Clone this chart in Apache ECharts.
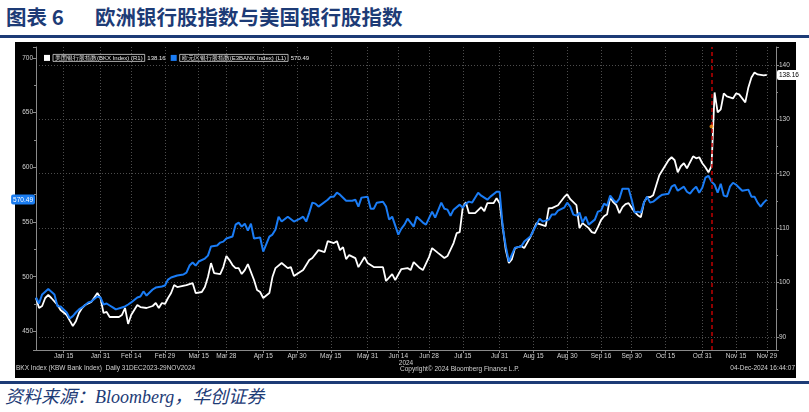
<!DOCTYPE html>
<html><head><meta charset="utf-8">
<script src="https://cdn.jsdelivr.net/npm/echarts@6/dist/echarts.min.js"></script>
<style>
html,body{margin:0;padding:0;background:#fff;}
#wrap{position:relative;width:809px;height:412px;overflow:hidden;}
#title{position:absolute;left:6px;top:4px;font-family:"Noto Sans CJK SC";font-weight:bold;font-size:20.5px;line-height:24px;color:#1d3b76;white-space:pre;}
#title .t2{position:absolute;left:89px;top:0;}
#rule1{position:absolute;left:0;top:35px;width:809px;height:3px;background:#1d3b76;}
#panel{position:absolute;left:15px;top:42px;width:781px;height:336px;background:#000;}
#rule2{position:absolute;left:0;top:381px;width:809px;height:3px;background:#1d3b76;}
#source{position:absolute;left:5px;top:386px;font-family:"Liberation Serif","Noto Sans CJK SC";font-style:italic;font-size:18px;line-height:22px;color:#1d3b76;white-space:pre;}
#chart{position:absolute;left:0;top:0;width:809px;height:412px;}
</style></head>
<body>
<div id="wrap">
  <div id="title"><span>图表 6</span><span class="t2">欧洲银行股指数与美国银行股指数</span></div>
  <div id="rule1"></div>
  <div id="panel"></div>
  <div id="rule2"></div>
  <div id="source">资料来源：Bloomberg，华创证券</div>
  <div id="chart"></div>
</div>
<script>
// ---------- data ----------
const YEAR = 2024;
const tickDates = ['01-15','01-31','02-14','02-29','03-15','03-28','04-15','04-30','05-15','05-31','06-14','06-28','07-15','07-31','08-15','08-30','09-16','09-30','10-15','10-31','11-15','11-29'];
const electionDate = '11-05';
const eventMarker = { date: '11-05', value: 128.7 };

const euroName = '欧元区银行股指数(E3BANK Index) (L1)';
const usName = '美国银行股指数(BKX Index) (R1)';

const euroDates = ['01-02','01-03','01-04','01-08','01-10','01-11','01-12','01-16','01-17','01-18','01-19','01-22','01-23','01-25','01-26','01-30','01-31',
'02-01','02-02','02-05','02-06','02-07','02-09','02-12','02-13','02-14','02-16','02-19','02-20','02-21','02-23','02-26','02-28','02-29',
'03-01','03-04','03-06','03-08','03-11','03-12','03-13','03-14','03-15','03-19','03-20','03-21','03-25','03-26','03-27','03-28',
'04-01','04-02','04-03','04-04','04-05','04-08','04-09','04-10','04-12','04-15','04-17','04-18','04-19','04-22','04-23','04-25','04-29',
'05-01','05-02','05-03','05-06','05-07','05-08','05-09','05-14','05-15','05-16','05-17','05-20','05-22','05-24','05-27','05-28','05-29','05-31',
'06-03','06-04','06-05','06-07','06-10','06-11','06-12','06-14','06-17','06-18','06-19','06-21','06-24','06-26','06-27',
'07-01','07-02','07-04','07-05','07-08','07-09','07-10','07-12','07-15','07-16','07-17','07-18','07-22','07-23','07-25','07-26','07-30','07-31',
'08-01','08-02','08-05','08-06','08-07','08-09','08-12','08-14','08-16','08-19','08-20','08-22','08-23','08-26','08-27','08-29','08-30',
'09-02','09-03','09-04','09-05','09-06','09-09','09-10','09-12','09-13','09-16','09-17','09-18','09-19','09-20','09-23','09-24','09-25','09-27','09-30',
'10-01','10-02','10-03','10-04','10-07','10-08','10-09','10-11','10-14','10-16','10-17','10-18','10-21','10-23','10-24','10-25','10-28','10-29','10-30','10-31',
'11-01','11-04','11-05','11-06','11-07','11-08','11-11','11-12','11-13','11-14','11-15','11-19','11-21','11-22','11-25','11-26','11-27','11-28','11-29'];
const euroValues = [481.0,475.5,483.8,488.8,483.8,473.1,472.8,467.3,461.9,464.0,467.3,470.1,471.9,476.5,477.4,481.9,481.0,
474.6,475.5,473.7,471.9,470.1,471.9,472.8,474.6,476.5,481.0,481.9,486.5,482.8,488.3,490.1,491.1,492.0,
497.4,499.3,501.1,502.0,503.8,510.2,513.0,510.2,513.9,516.6,519.3,527.6,528.5,531.2,532.1,534.9,
536.7,547.6,549.5,545.8,548.5,542.2,548.5,534.9,535.8,523.0,536.7,538.5,543.1,554.9,550.4,554.9,550.4,
553.1,554.9,550.4,558.6,567.7,566.8,564.1,570.4,573.2,573.2,576.8,575.0,569.5,569.5,570.4,564.1,572.3,573.2,
562.2,562.2,567.7,568.6,564.1,552.2,554.9,538.5,544.0,547.6,553.1,545.8,554.9,549.5,547.6,
559.5,554.0,567.7,562.2,561.3,555.8,561.3,565.9,563.1,566.8,568.6,567.7,576.8,574.1,570.4,573.2,577.7,577.7,
545.8,527.6,513.9,520.3,526.6,527.6,532.1,536.7,547.6,553.1,550.4,552.2,556.8,556.8,560.4,563.1,567.7,
564.1,556.8,555.8,558.6,549.5,554.9,547.6,552.2,559.5,560.4,566.8,565.0,574.1,570.4,567.7,571.4,580.5,580.5,570.4,
558.6,559.5,558.6,567.7,573.2,567.7,568.6,573.2,575.0,575.9,582.3,584.1,578.6,582.3,577.7,575.9,579.6,582.3,576.8,581.4,
590.5,592.3,586.9,584.1,576.8,585.0,574.1,573.2,582.3,585.9,584.1,578.6,579.6,573.2,573.2,567.7,564.1,567.7,570.49];

const usDates = ['01-02','01-03','01-04','01-05','01-08','01-09','01-11','01-12','01-16','01-17','01-18','01-19','01-22','01-23','01-24','01-26','01-30','01-31',
'02-01','02-02','02-05','02-07','02-08','02-09','02-12','02-13','02-14','02-16','02-19','02-21','02-23','02-26','02-27','02-28','02-29',
'03-01','03-04','03-05','03-06','03-11','03-13','03-14','03-18','03-19','03-20','03-21','03-22','03-26','03-27','03-28','03-29',
'04-01','04-02','04-03','04-04','04-05','04-08','04-10','04-11','04-12','04-15','04-17','04-18','04-19','04-23','04-25','04-26','04-29',
'05-02','05-06','05-07','05-09','05-13','05-14','05-16','05-17','05-20','05-21','05-22','05-23','05-27','05-28','05-30','05-31',
'06-04','06-05','06-07','06-10','06-12','06-13','06-17','06-19','06-20','06-21','06-25','06-26','06-28',
'07-01','07-03','07-05','07-08','07-10','07-11','07-12','07-15','07-16','07-17','07-19','07-23','07-24','07-25','07-29','07-30','07-31',
'08-01','08-02','08-05','08-06','08-07','08-09','08-12','08-14','08-16','08-20','08-21','08-22','08-23','08-27','08-29','08-30',
'09-02','09-04','09-05','09-06','09-10','09-11','09-12','09-13','09-16','09-17','09-18','09-19','09-20','09-23','09-24','09-25','09-26','09-27',
'10-01','10-02','10-03','10-04','10-07','10-08','10-09','10-10','10-11','10-14','10-16','10-17','10-18','10-21','10-22','10-23','10-24','10-28','10-29','10-30','10-31',
'11-01','11-04','11-05','11-06','11-07','11-08','11-11','11-12','11-14','11-15','11-18','11-20','11-21','11-22','11-25','11-26','11-28','11-29'];
const usValues = [97.16,95.32,95.69,97.16,97.71,97.16,95.87,94.95,94.04,93.0,92.02,92.9,94.4,95.32,95.87,96.42,98.07,97.16,
94.40,94.59,93.67,93.67,93.67,94.04,95.32,92.39,94.04,95.87,95.50,95.32,95.69,96.24,95.32,96.24,96.06,
97.16,98.07,99.54,99.17,99.54,99.91,98.07,98.26,99.17,101.01,103.58,101.74,101.56,102.84,104.86,104.13,
103.21,102.66,102.66,101.56,102.29,103.39,100.46,98.62,98.26,97.16,98.07,101.01,102.66,103.58,102.66,102.84,101.19,
102.29,104.13,104.50,105.96,105.60,107.61,107.25,107.61,105.96,106.51,104.31,105.05,104.50,102.84,104.68,103.58,
102.84,102.84,102.84,100.28,101.56,100.46,102.48,102.66,102.29,103.76,102.66,102.29,104.68,
106.33,105.41,104.50,104.86,107.25,109.08,109.27,113.85,114.77,112.75,112.75,113.85,113.12,114.59,114.59,115.50,114.59,
110.18,105.96,103.58,104.31,106.33,106.70,106.33,108.35,110.92,110.55,110.37,113.67,113.67,114.22,115.69,116.24,
115.32,114.22,110.00,110.92,110.00,109.27,109.08,110.18,111.47,112.20,112.57,115.69,114.77,114.22,112.75,113.85,114.40,114.59,
112.94,112.39,112.02,114.77,115.69,115.69,116.06,117.89,119.72,120.64,122.48,123.03,122.48,120.28,121.38,121.93,121.01,123.21,122.84,123.03,121.93,
121.19,120.28,121.38,134.95,131.28,131.83,134.77,134.22,133.85,134.77,134.59,133.12,135.87,137.71,138.62,138.26,138.07,138.16];

// ---------- axis categories (weekdays) ----------
const categories = [];
for (let d = new Date(Date.UTC(YEAR, 0, 2)); d <= new Date(Date.UTC(YEAR, 11, 4)); d.setUTCDate(d.getUTCDate() + 1)) {
  const wd = d.getUTCDay();
  if (wd === 0 || wd === 6) continue;
  categories.push(String(d.getUTCMonth() + 1).padStart(2, '0') + '-' + String(d.getUTCDate()).padStart(2, '0'));
}
const catIndex = {};
categories.forEach((c, i) => { catIndex[c] = i; });
const MONTHS = ['Jan','Feb','Mar','Apr','May','Jun','Jul','Aug','Sep','Oct','Nov','Dec'];
const fmtDate = c => MONTHS[+c.slice(0, 2) - 1] + ' ' + (+c.slice(3));
const tickSet = new Set(tickDates);
const isTick = (i, v) => tickSet.has(v);

const euroLast = euroValues[euroValues.length - 1];
const usLast = usValues[usValues.length - 1];

const smallFont = 'Liberation Sans';
const labelColor = '#d2d2d2';
const axisColor = '#8a8a8a';

const chart = echarts.init(document.getElementById('chart'), null, { renderer: 'canvas' });
chart.setOption({
  backgroundColor: 'transparent',
  animation: false,
  grid: { left: 36, right: 33, top: 47, bottom: 62 },
  legend: {
    left: 39, top: 49, icon: 'rect', itemWidth: 6, itemHeight: 6, itemGap: 5,
    data: [usName, euroName],
    selectedMode: false,
    formatter: name => '{b|' + name + '} {v|' + (name === usName ? usLast.toFixed(2) : euroLast.toFixed(2)) + '}',
    textStyle: {
      color: '#e6e6e6', fontSize: 6, fontFamily: smallFont, padding: [0, 0, 0, -2],
      rich: {
        b: { color: '#e6e6e6', fontSize: 6, fontFamily: smallFont, borderColor: '#d8d8d8', borderWidth: 0.8, padding: [1, 2, 0, 2] },
        v: { color: '#e6e6e6', fontSize: 6, fontFamily: smallFont, padding: [0, 0, 0, 1] }
      }
    }
  },
  xAxis: {
    type: 'category', data: categories, boundaryGap: false,
    axisLine: { lineStyle: { color: axisColor, width: 1 } },
    axisTick: { interval: isTick, length: 3, lineStyle: { color: axisColor } },
    axisLabel: { interval: isTick, formatter: fmtDate, color: labelColor, fontSize: 6.5, fontFamily: smallFont, margin: 3 },
    splitLine: { show: true, interval: isTick, lineStyle: { color: '#4d4d4d', type: [1, 2], width: 1 } },
    name: String(YEAR), nameLocation: 'middle', nameGap: 1, nameMoveOverlap: false,
    nameTextStyle: { color: labelColor, fontSize: 6.5, fontFamily: smallFont, padding: [9, 0, 0, 0] }
  },
  yAxis: [
    {
      type: 'value', position: 'left', min: 433, max: 710, splitNumber: 5,
      axisLine: { show: true, lineStyle: { color: axisColor } },
      axisTick: { show: true, length: 3, lineStyle: { color: axisColor } },
      minorTick: { show: true, splitNumber: 2, length: 2, lineStyle: { color: axisColor } },
      axisLabel: { color: labelColor, fontSize: 6.5, fontFamily: smallFont, margin: 3, showMinLabel: false, showMaxLabel: false },
      splitLine: { show: false },
      axisPointer: {
        show: true, status: 'show', value: euroLast, snap: false, triggerTooltip: false, type: 'line',
        lineStyle: { opacity: 0 },
        label: { show: true, precision: 2, backgroundColor: '#1a7cf0', color: '#fff', fontSize: 6.5, fontFamily: smallFont, padding: [2, 2, 1, 2], borderRadius: 2, margin: 1 }
      }
    },
    {
      type: 'value', position: 'right', min: 87.6, max: 143.3, splitNumber: 5,
      axisLine: { show: true, lineStyle: { color: axisColor } },
      axisTick: { show: true, length: 3, lineStyle: { color: axisColor } },
      minorTick: { show: true, splitNumber: 2, length: 2, lineStyle: { color: axisColor } },
      axisLabel: { color: labelColor, fontSize: 6.5, fontFamily: smallFont, margin: 3, showMinLabel: false, showMaxLabel: false },
      splitLine: { show: true, showMinLine: false, showMaxLine: false, lineStyle: { color: '#4d4d4d', type: [1, 2], width: 1 } },
      axisPointer: {
        show: true, status: 'show', value: usLast, snap: false, triggerTooltip: false, type: 'line',
        lineStyle: { opacity: 0 },
        label: { show: true, precision: 2, backgroundColor: '#ffffff', color: '#000', fontSize: 6.5, fontFamily: smallFont, padding: [2, 2, 1, 2], borderRadius: 2, margin: 1 }
      }
    }
  ],
  series: [
    {
      name: usName, type: 'line', yAxisIndex: 1, showSymbol: false, symbol: 'none',
      data: usDates.map((d, i) => [catIndex[d], usValues[i]]),
      lineStyle: { color: '#ffffff', width: 1.8 }, itemStyle: { color: '#ffffff' }, z: 3,
      markLine: {
        silent: true, symbol: 'none', label: { show: false },
        lineStyle: { color: '#c00000', type: [4, 3], width: 1.5 },
        data: [{ xAxis: catIndex[electionDate] }]
      }
    },
    {
      name: euroName, type: 'line', yAxisIndex: 0, showSymbol: false, symbol: 'none',
      data: euroDates.map((d, i) => [catIndex[d], euroValues[i]]),
      lineStyle: { color: '#1a7cf5', width: 2 }, itemStyle: { color: '#1a7cf5' }, z: 4
    },
    {
      type: 'scatter', yAxisIndex: 1, symbolSize: 4, silent: true,
      data: [[catIndex[eventMarker.date], eventMarker.value]],
      itemStyle: { color: '#ff9a1a' }, z: 5
    }
  ],
  graphic: [
    { type: 'text', left: 16, top: 365, style: { text: 'BKX Index (KBW Bank Index)  Daily 31DEC2023-29NOV2024', fill: labelColor, font: '6.5px "Liberation Sans"' } },
    { type: 'text', left: 400, top: 366, style: { text: 'Copyright© 2024 Bloomberg Finance L.P.', fill: labelColor, font: '6.5px "Liberation Sans"' } },
    { type: 'text', right: 14, top: 365, style: { text: '04-Dec-2024 16:44:07', fill: labelColor, font: '6.5px "Liberation Sans"' } }
  ]
});
</script>
</body></html>
